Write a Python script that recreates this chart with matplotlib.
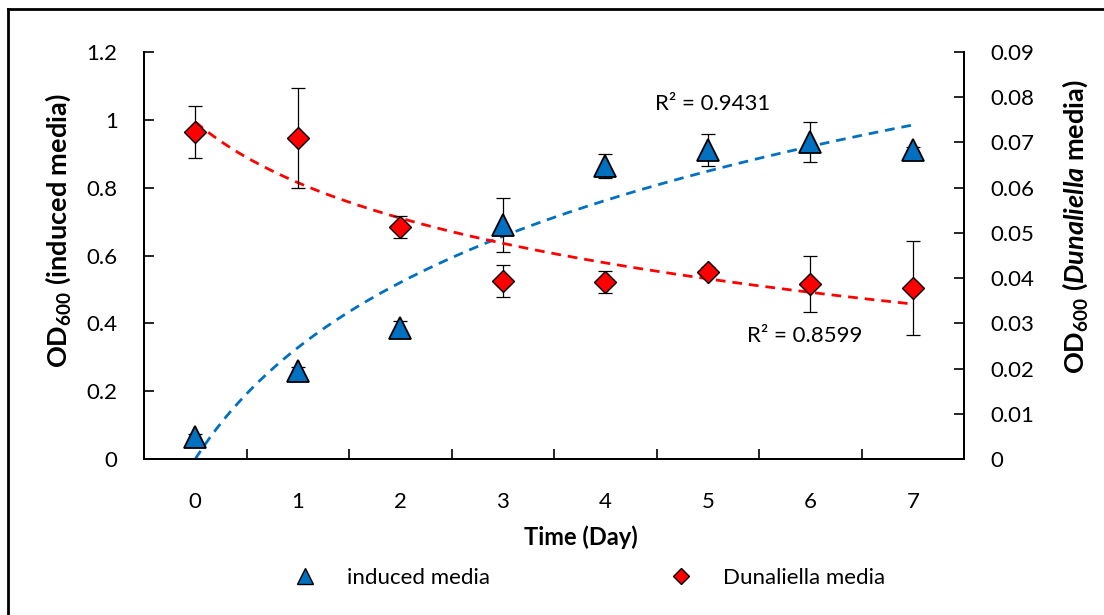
import numpy as np
import matplotlib
matplotlib.use("Agg")
import matplotlib.pyplot as plt
from matplotlib.lines import Line2D

plt.rcParams['font.family'] = ['Lato', 'DejaVu Sans']
plt.rcParams['mathtext.fontset'] = 'custom'
plt.rcParams['mathtext.rm'] = 'Lato'
plt.rcParams['mathtext.bf'] = 'Lato:bold'
plt.rcParams['mathtext.it'] = 'Lato:italic'
plt.rcParams['mathtext.bfit'] = 'Lato:bold:italic'

# データ
days = [0, 1, 2, 3, 4, 5, 6, 7]
induced = [0.065, 0.26, 0.386, 0.69, 0.864, 0.911, 0.935, 0.911]
induced_err = [0.01, 0.01, 0.02, 0.08, 0.036, 0.047, 0.06, 0.01]
dunaliella = [0.0723, 0.0710, 0.0513, 0.0394, 0.0391, 0.0414, 0.0387, 0.0378]
dunaliella_err = [0.0058, 0.011, 0.0025, 0.0035, 0.0025, 0.001, 0.0062, 0.0104]
r2_labels = ["R² = 0.9431", "R² = 0.8599"]
left_ticks = [0, 0.2, 0.4, 0.6, 0.8, 1, 1.2]
right_ticks = [0, 0.01, 0.02, 0.03, 0.04, 0.05, 0.06, 0.07, 0.08, 0.09]

blue = '#0070C0'
red = '#FF0000'
fs = 16

fig = plt.figure(figsize=(11.04, 6.15), dpi=100)
ax = fig.add_axes([144/1104, 1-459/615, 820/1104, 407/615])
ax2 = ax.twinx()

x = np.array(days)

# エクセル風の対数近似（x = 1..8）
xs = np.linspace(0, 7, 200)
a1, b1 = np.polyfit(np.log(x + 1), induced, 1)
a2, b2 = np.polyfit(np.log(x + 1), dunaliella, 1)
ax.plot(xs, a1*np.log(xs+1)+b1, color=blue, lw=2, dashes=(3.5, 2.5), zorder=2)
ax2.plot(xs, a2*np.log(xs+1)+b2, color=red, lw=2, dashes=(3.5, 2.5), zorder=2)

ax.errorbar(x, induced, yerr=induced_err, fmt='none', ecolor='black',
            elinewidth=0.9, capsize=5, capthick=0.9, zorder=3)
ax.plot(x, induced, ls='none', marker='^', ms=16.5, mfc=blue, mec='black',
        mew=1.3, zorder=4)
ax2.errorbar(x, dunaliella, yerr=dunaliella_err, fmt='none', ecolor='black',
             elinewidth=0.9, capsize=5, capthick=0.9, zorder=3)
ax2.plot(x, dunaliella, ls='none', marker='D', ms=11.5, mfc=red, mec='black',
         mew=1.0, zorder=4)

ax.set_xlim(-0.5, 7.5)
ax.set_ylim(0, 1.2)
ax2.set_ylim(0, 0.09)
ax.set_yticks(left_ticks)
ax.set_yticklabels([f"{v:g}" for v in left_ticks], fontsize=fs)
ax2.set_yticks(right_ticks)
ax2.set_yticklabels([f"{v:g}" for v in right_ticks], fontsize=fs)
ax.set_xticks(days)
ax.set_xticklabels([str(d) for d in days], fontsize=fs)
ax.set_xticks(np.arange(0.5, 7, 1), minor=True)
ax.tick_params(axis='x', which='major', length=0, pad=24)
ax.tick_params(axis='x', which='minor', direction='in', length=7, width=1.2)
ax.tick_params(axis='y', direction='in', length=7, width=1.2, pad=19)
ax2.tick_params(axis='y', direction='in', length=7, width=1.2, pad=19)

for a in (ax, ax2):
    a.spines['top'].set_visible(False)
    for s in ('left', 'right', 'bottom'):
        a.spines[s].set_linewidth(1.4)

ax.set_ylabel(r'OD$_{\mathbf{600}}$ (induced media)', fontsize=19.5,
              fontweight='bold')
ax2.set_ylabel(r'OD$_{\mathbf{600}}$ ($\mathbfit{Dunaliella}$ media)', fontsize=19.5,
               fontweight='bold')
ax.yaxis.set_label_coords(-0.087, 0.56)
ax2.yaxis.set_label_coords(1.118, 0.572)

fig.text(581/1104, 1-537/615, 'Time (Day)', fontsize=17, fontweight='bold',
         ha='center', va='center')

ax.text(5.05, 1.047, r2_labels[0], fontsize=fs, ha='center', va='center')
ax.text(5.95, 0.363, r2_labels[1], fontsize=fs, ha='center', va='center')

h1 = Line2D([], [], ls='none', marker='^', ms=12, mfc=blue, mec='black', mew=1)
h2 = Line2D([], [], ls='none', marker='D', ms=8, mfc=red, mec='black', mew=1)
fig.legend([h1, h2], ['induced media', 'Dunaliella media'], ncol=2,
           loc='center', bbox_to_anchor=(584/1104, 1-578/615), frameon=False,
           fontsize=fs, columnspacing=7.6, handletextpad=0.9)

# 外枠（左と上）
fig.add_artist(Line2D([8/1104, 8/1104], [0, 1-9/615], color='black', lw=2,
                      transform=fig.transFigure))
fig.add_artist(Line2D([8/1104, 1], [1-9/615, 1-9/615], color='black', lw=2,
                      transform=fig.transFigure))

fig.savefig('out.png', dpi=100)
